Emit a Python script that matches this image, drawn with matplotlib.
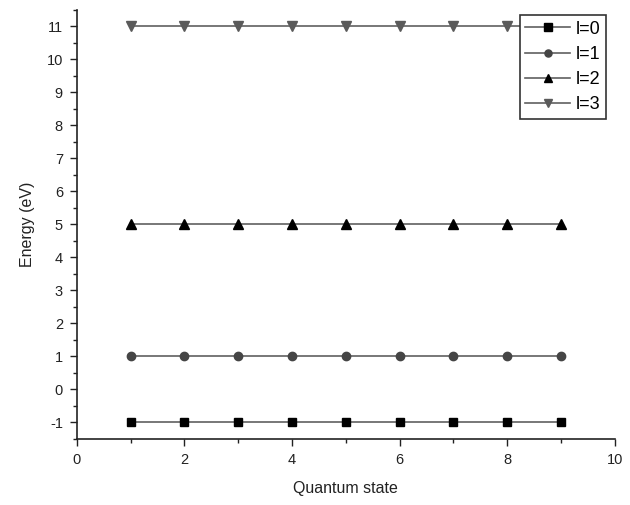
#!/usr/bin/env python3

import matplotlib

matplotlib.use("Agg")
import matplotlib.pyplot as plt
from matplotlib.ticker import MultipleLocator

plt.rcParams["font.family"] = ["Liberation Sans", "DejaVu Sans"]
plt.rcParams["axes.unicode_minus"] = False

STATES = [1, 2, 3, 4, 5, 6, 7, 8, 9]
ENERGY_L0 = [-1, -1, -1, -1, -1, -1, -1, -1, -1]
ENERGY_L1 = [1, 1, 1, 1, 1, 1, 1, 1, 1]
ENERGY_L2 = [5, 5, 5, 5, 5, 5, 5, 5, 5]
ENERGY_L3 = [11, 11, 11, 11, 11, 11, 11, 11, 11]

SERIES = [
    ("l=0", ENERGY_L0, "s", "#000000", 6),
    ("l=1", ENERGY_L1, "o", "#454545", 6),
    ("l=2", ENERGY_L2, "^", "#000000", 7),
    ("l=3", ENERGY_L3, "v", "#5a5a5a", 7),
]


def main() -> None:
    fig = plt.figure(figsize=(6.3, 5.05), dpi=100)
    ax = fig.add_axes([0.122, 0.131, 0.854, 0.85])

    for label, values, marker, color, size in SERIES:
        ax.plot(STATES, values, color="#606060", linewidth=1.2,
                marker=marker, markersize=size, markerfacecolor=color,
                markeredgecolor=color, label=label)

    ax.set_xlim(0, 10)
    ax.set_ylim(-1.5, 11.5)
    ax.xaxis.set_major_locator(MultipleLocator(2))
    ax.xaxis.set_minor_locator(MultipleLocator(1))
    ax.yaxis.set_major_locator(MultipleLocator(1))
    ax.yaxis.set_minor_locator(MultipleLocator(0.5))
    ax.tick_params(which="major", direction="out", length=5, width=1,
                   labelsize=10.5, colors="#222222", pad=5)
    ax.tick_params(which="minor", direction="out", length=3, width=1,
                   colors="#222222")
    for side in ("top", "right"):
        ax.spines[side].set_visible(False)
    for side in ("left", "bottom"):
        ax.spines[side].set_linewidth(1.2)
        ax.spines[side].set_color("#222222")

    ax.set_xlabel("Quantum state", fontsize=11.5, labelpad=10, color="#222222")
    ax.set_ylabel("Energy (eV)", fontsize=11.5, labelpad=8, color="#222222")

    legend = ax.legend(loc="upper right", bbox_to_anchor=(0.99, 0.995),
                       fontsize=13, fancybox=False, framealpha=1,
                       edgecolor="#333333", handlelength=2.5,
                       handletextpad=0.3, borderpad=0.3, labelspacing=0.45,
                       borderaxespad=0.2, markerscale=0.85)
    legend.get_frame().set_linewidth(1.2)

    fig.savefig("out.png", dpi=100)
    plt.close(fig)


if __name__ == "__main__":
    main()
